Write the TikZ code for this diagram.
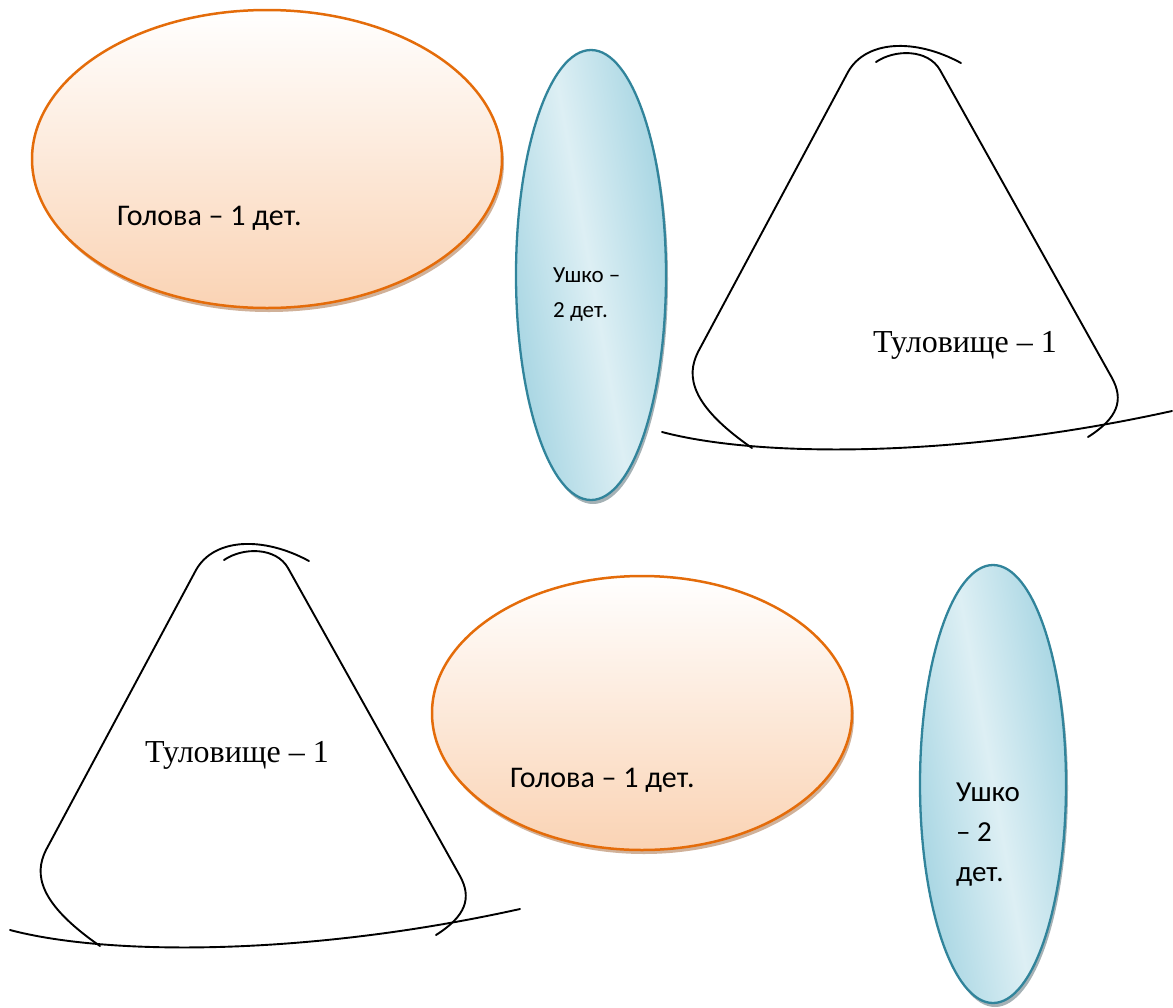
\documentclass[tikz,border=0pt]{standalone}
\usepackage{fontspec}
\setmainfont{Liberation Serif}
\newfontfamily\calibri{Carlito}
\usetikzlibrary{shapes.geometric,shadows}

\definecolor{headline}{HTML}{E46C0A}
\definecolor{headfill}{HTML}{FAD3B4}
\definecolor{headshadow}{HTML}{C49D80}
\definecolor{earline}{HTML}{31849B}
\definecolor{earlight}{HTML}{DDEFF4}
\definecolor{eardark}{HTML}{A2D3E1}
\definecolor{earshadow}{HTML}{8E9EA3}

\tikzset{
	head/.style={
		ellipse,
		draw=headline,
		line width=2.5pt,
		inner sep=0pt,
		top color=white,
		bottom color=headfill,
		drop shadow={shadow xshift=2pt, shadow yshift=-4pt, fill=headshadow, opacity=.8}
	},
	ear/.style={
		ellipse,
		draw=earline,
		line width=2.3pt,
		inner sep=0pt,
		left color=eardark,
		right color=eardark,
		middle color=earlight,
		shading angle=100,
		drop shadow={shadow xshift=2pt, shadow yshift=-4pt, fill=earshadow, opacity=.8}
	},
	outline/.style={line width=1.9pt, line cap=round},
	caption/.style={inner sep=0pt, anchor=base west, font=\calibri\fontsize{30}{40}\selectfont},
	smallcaption/.style={inner sep=0pt, anchor=north west, align=left, font=\calibri\fontsize{23}{35}\selectfont},
	bodycaption/.style={inner sep=0pt, anchor=base west, font=\fontsize{32}{38}\selectfont}
}

\begin{document}
\begin{tikzpicture}[x=1pt, y=-1pt]
	\useasboundingbox (0,0) rectangle (1173,1007);
	
	% upper row
	\node[head, minimum width=470pt, minimum height=298pt] (head1) at (267,159) {};
	\node[caption] (head1text) at (117,225) {Голова – 1 дет.};
	
	\node[ear, minimum width=150pt, minimum height=450pt] (ear1) at (591,275) {};
	\node[smallcaption] (ear1text) at (553,268) {Ушко –\\2 дет.};
	
	\draw[outline] (752,448) .. controls (690,405) and (686,376) .. (698,352)
		-- (848,72) .. controls (866,40) and (915,38) .. (961,63);
	\draw[outline] (876,62) .. controls (895,49) and (928,49) .. (940,70)
		-- (1112,378) .. controls (1124,400) and (1118,418) .. (1088,437);
	\draw[outline] (662,432) .. controls (760,458) and (960,458) .. (1172,411);
	\node[bodycaption] (body1text) at (873,352) {Туловище – 1};
	
	% lower row
	\begin{scope}[shift={(-652,498)}]
		\draw[outline] (752,448) .. controls (690,405) and (686,376) .. (698,352)
			-- (848,72) .. controls (866,40) and (915,38) .. (961,63);
		\draw[outline] (876,62) .. controls (895,49) and (928,49) .. (940,70)
			-- (1112,378) .. controls (1124,400) and (1118,418) .. (1088,437);
		\draw[outline] (662,432) .. controls (760,458) and (960,458) .. (1172,411);
	\end{scope}
	\node[bodycaption] (body2text) at (145,762) {Туловище – 1};
	
	\node[head, minimum width=420pt, minimum height=274pt] (head2) at (642,713) {};
	\node[caption] (head2text) at (510,787) {Голова – 1 дет.};
	
	\node[ear, minimum width=146pt, minimum height=438pt] (ear2) at (993,784) {};
	\node[smallcaption, font=\calibri\fontsize{29}{40}\selectfont] (ear2text) at (956,783) {Ушко\\– 2\\дет.};
	
\end{tikzpicture}
\end{document}
